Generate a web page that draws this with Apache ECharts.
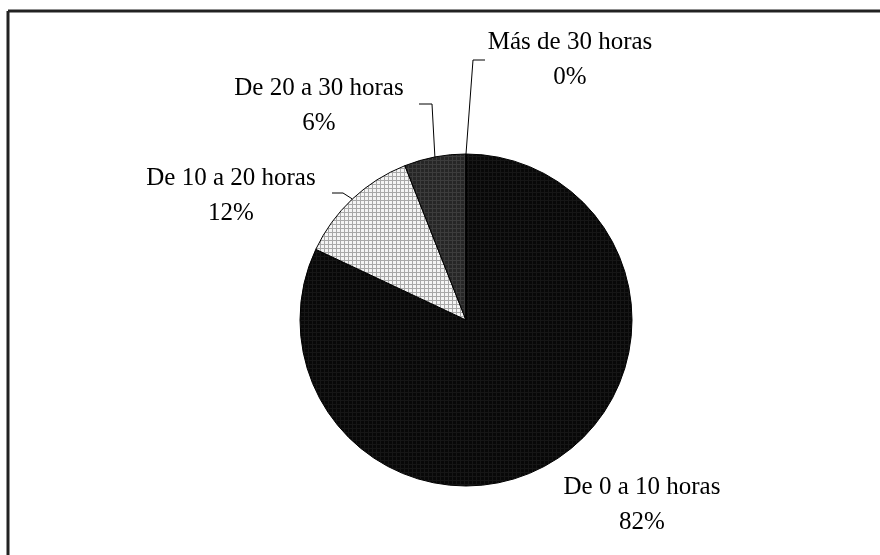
<!DOCTYPE html>
<html>
<head>
<meta charset="utf-8">
<script src="https://cdn.jsdelivr.net/npm/echarts@6/dist/echarts.min.js"></script>
<style>
html,body{margin:0;padding:0;background:#fff;}
#chart{width:880px;height:555px;}
</style>
</head>
<body>
<div id="chart"></div>
<script>
const categories = ['De 0 a 10 horas', 'De 10 a 20 horas', 'De 20 a 30 horas', 'Más de 30 horas'];
const values = [82, 12, 6, 0];

function makePattern(bg, line, step) {
  const c = document.createElement('canvas');
  c.width = step; c.height = step;
  const g = c.getContext('2d');
  g.fillStyle = bg; g.fillRect(0, 0, step, step);
  g.fillStyle = line;
  g.fillRect(0, 0, step, 1);
  g.fillRect(0, 0, 1, step);
  return { image: c, repeat: 'repeat' };
}
const fills = [
  makePattern('#080808', '#161616', 4),
  makePattern('#f4f4f4', '#a8a8a8', 4),
  makePattern('#262626', '#3c3c3c', 4),
  makePattern('#262626', '#3c3c3c', 4)
];

// label placement (centre of label block) and leader line bends
const labelPos = [
  { x: 642, y: 505, line: null },
  { x: 231, y: 196, line: [[343, 193], [332, 193]] },
  { x: 319, y: 106, line: [[432, 104], [419, 104]] },
  { x: 570, y: 60,  line: [[473, 60], [485, 60]] }
];

const chart = echarts.init(document.getElementById('chart'), null, { renderer: 'canvas' });
chart.setOption({
  animation: false,
  backgroundColor: '#ffffff',
  graphic: [
    { type: 'line', shape: { x1: 8, y1: 11, x2: 880, y2: 11 }, style: { stroke: '#222', lineWidth: 3 } },
    { type: 'line', shape: { x1: 8, y1: 11, x2: 8, y2: 555 }, style: { stroke: '#222', lineWidth: 3 } }
  ],
  series: [{
    type: 'pie',
    center: [466, 320],
    radius: 166,
    startAngle: 90,
    clockwise: true,
    percentPrecision: 0,
    avoidLabelOverlap: false,
    itemStyle: { borderColor: '#000', borderWidth: 1 },
    label: {
      show: true,
      position: 'outside',
      formatter: '{b}\n{d}%',
      fontFamily: 'Liberation Serif',
      fontSize: 25,
      lineHeight: 35,
      color: '#000',
      align: 'center'
    },
    labelLine: { show: true, length: 10, length2: 10, lineStyle: { color: '#000', width: 1 } },
    labelLayout: function (params) {
      const p = labelPos[params.dataIndex];
      const out = { x: p.x, y: p.y, align: 'center', verticalAlign: 'middle' };
      if (p.line && params.labelLinePoints) {
        const start = params.labelLinePoints[0];
        out.labelLinePoints = [start, p.line[0], p.line[1]];
      }
      return out;
    },
    data: categories.map((name, i) => ({
      name: name,
      value: values[i],
      itemStyle: { color: fills[i] },
      labelLine: { show: i !== 0 }
    }))
  }]
});
</script>
</body>
</html>
